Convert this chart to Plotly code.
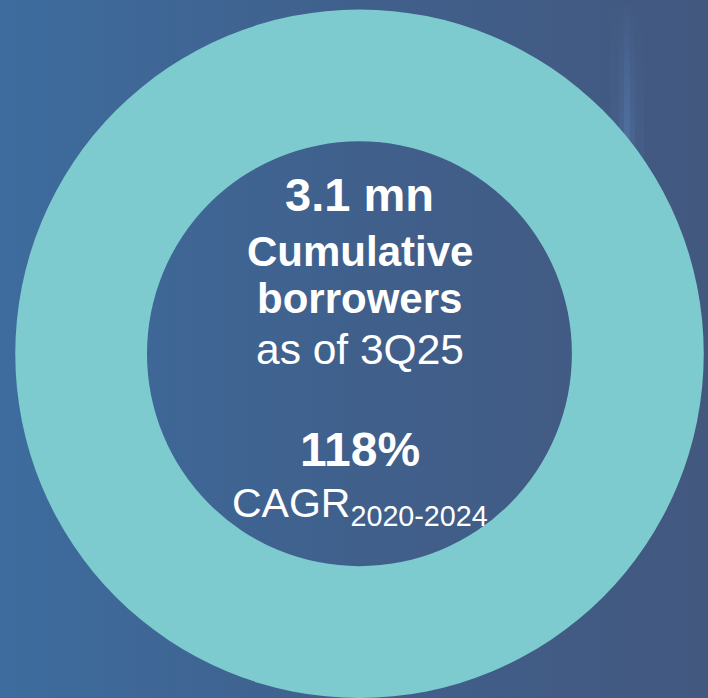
import plotly.graph_objects as go

# ---- data ----
ring_labels = ["Cumulative borrowers"]
ring_values = [100]
headline_value = "3.1 mn"
headline_lines = ["Cumulative", "borrowers"]
headline_note = "as of 3Q25"
growth_value = "118%"
growth_label = "CAGR"
growth_period = "2020-2024"

W, H = 708, 698
TEAL = "#7ECBCF"
BG_LEFT = "rgb(61,108,158)"
BG_RIGHT = "rgb(66,88,127)"
FONT = "Liberation Sans, Arial, sans-serif"

fig = go.Figure()

# background gradient
fig.add_trace(go.Scatter(
    x=[0, W, W, 0, 0], y=[0, 0, H, H, 0], mode="lines", fill="toself",
    line=dict(width=0), hoverinfo="skip", showlegend=False,
    fillgradient=dict(type="horizontal",
                      colorscale=[[0, BG_LEFT], [0.5, "rgb(64,96,140)"], [1, BG_RIGHT]]),
))
# faint light streak at top right (soft)
for x0, x1, y1, a in [(610, 644, 200, 0.10), (619, 635, 170, 0.14), (624, 630, 140, 0.22)]:
    fig.add_trace(go.Scatter(
        x=[x0, x1, x1, x0, x0], y=[0, 0, y1, y1, 0], mode="lines", fill="toself",
        line=dict(width=0), hoverinfo="skip", showlegend=False,
        fillgradient=dict(type="vertical",
                          colorscale=[[0, f"rgba(105,150,210,{a})"], [1, "rgba(105,150,210,0)"]]),
    ))

cx, cy, r = 359.5, 354.0, 344.5
fig.add_trace(go.Pie(
    labels=ring_labels, values=ring_values, hole=0.617, sort=False,
    marker=dict(colors=[TEAL], line=dict(width=0)),
    textinfo="none", hoverinfo="skip", showlegend=False,
    domain=dict(x=[(cx - r) / W, (cx + r) / W], y=[max(0, 1 - (cy + r) / H), 1 - (cy - r) / H]),
))

def ann(text, ypix, size, bold):
    fig.add_annotation(
        text=f"<b>{text}</b>" if bold else text,
        x=cx / W, y=1 - ypix / H, xref="paper", yref="paper",
        xanchor="center", yanchor="middle", showarrow=False,
        font=dict(family=FONT, size=size, color="white"),
    )

ann(headline_value, 194, 47, True)
ann(headline_lines[0], 252, 42, True)
ann(headline_lines[1], 299, 42, True)
ann(headline_note, 349, 42.5, False)
ann(growth_value, 449, 48, True)
ann(f"{growth_label}<sub>{growth_period}</sub>", 506, 41, False)

fig.update_layout(
    width=W, height=H, margin=dict(l=0, r=0, t=0, b=0),
    paper_bgcolor=BG_RIGHT, plot_bgcolor="rgba(0,0,0,0)",
    xaxis=dict(range=[0, W], visible=False, fixedrange=True),
    yaxis=dict(range=[H, 0], visible=False, fixedrange=True),
)

fig.write_html("out.html")
